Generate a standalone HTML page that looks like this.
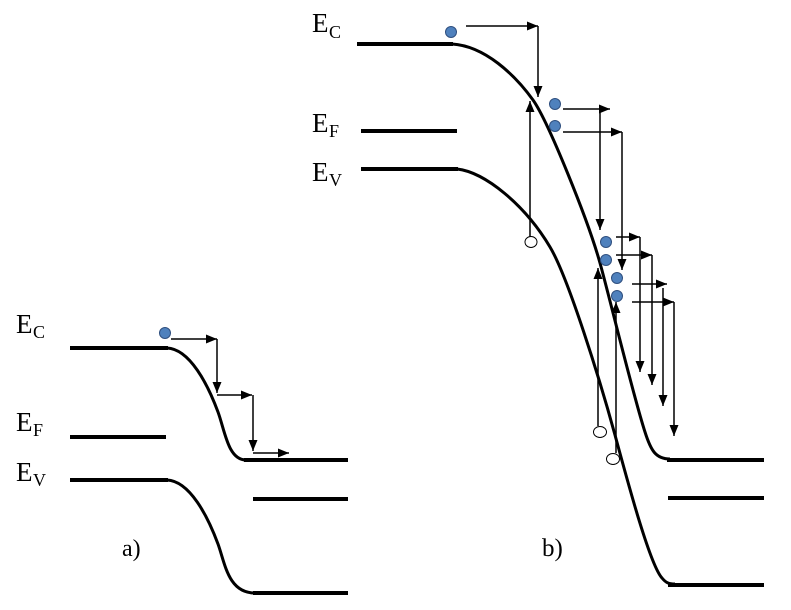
<!DOCTYPE html>
<html>
<head>
<meta charset="utf-8">
<style>
html,body{margin:0;padding:0;background:#fff;}
svg{display:block;}
text{font-family:"Liberation Serif",serif;fill:#000;}
</style>
</head>
<body>
<svg width="791" height="610" viewBox="0 0 791 610" xmlns="http://www.w3.org/2000/svg">
<defs>
<marker id="ah" markerUnits="userSpaceOnUse" markerWidth="12" markerHeight="10" refX="11" refY="4.5" orient="auto">
<path d="M0,0 L11,4.5 L0,9 z" fill="#000"/>
</marker>
</defs>

<!-- Panel a bands -->
<g fill="none" stroke="#000" stroke-linecap="butt">
<line x1="70" y1="348" x2="168" y2="348" stroke-width="4"/>
<path d="M167,348 C190,349 208,385 218,412 C225,431 228,460 246,460" stroke-width="3"/>
<line x1="244" y1="460" x2="348" y2="460" stroke-width="4"/>
<line x1="70" y1="437" x2="166" y2="437" stroke-width="4"/>
<line x1="253" y1="499" x2="348" y2="499" stroke-width="4"/>
<line x1="70" y1="480" x2="168" y2="480" stroke-width="4"/>
<path d="M167,480 C190,481 208,517 218,544 C225,563 228,593 255,593" stroke-width="3"/>
<line x1="253" y1="593" x2="348" y2="593" stroke-width="4"/>
</g>

<!-- Panel b bands -->
<g fill="none" stroke="#000">
<line x1="357" y1="44" x2="453" y2="44" stroke-width="4"/>
<path d="M452,44 C485,46 515,75 533,100 C548,121 588,220 600,263 C610,299 633,395 645,432 C651,451 656,459 670,459" stroke-width="3"/>
<line x1="667" y1="460" x2="764" y2="460" stroke-width="4"/>
<line x1="361" y1="131" x2="457" y2="131" stroke-width="4"/>
<line x1="668" y1="498" x2="764" y2="498" stroke-width="4"/>
<line x1="361" y1="169" x2="458" y2="169" stroke-width="4"/>
<path d="M457,169 C485,172 525,205 550,247 C568,277 600,380 615,435 C628,483 650,565 662,578 C666,583 669,584 675,584" stroke-width="3"/>
<line x1="668" y1="585" x2="764" y2="585" stroke-width="4"/>
</g>

<!-- Arrows panel a -->
<g stroke="#000" stroke-width="1.5" fill="none">
<line x1="171" y1="339" x2="217" y2="339" marker-end="url(#ah)"/>
<line x1="217" y1="339" x2="217" y2="393" marker-end="url(#ah)"/>
<line x1="217" y1="395" x2="252" y2="395" marker-end="url(#ah)"/>
<line x1="253" y1="395" x2="253" y2="451" marker-end="url(#ah)"/>
<line x1="253" y1="453" x2="289" y2="453" marker-end="url(#ah)"/>
</g>

<!-- Arrows panel b -->
<g stroke="#000" stroke-width="1.5" fill="none">
<line x1="466" y1="26" x2="538" y2="26" marker-end="url(#ah)"/>
<line x1="538" y1="26" x2="538" y2="97" marker-end="url(#ah)"/>
<line x1="563" y1="109" x2="610" y2="109" marker-end="url(#ah)"/>
<line x1="600" y1="109" x2="600" y2="230" marker-end="url(#ah)"/>
<line x1="563" y1="132" x2="622" y2="132" marker-end="url(#ah)"/>
<line x1="622" y1="132" x2="622" y2="270" marker-end="url(#ah)"/>
<line x1="530" y1="237" x2="530" y2="101" marker-end="url(#ah)"/>
<line x1="616" y1="237" x2="640" y2="237" marker-end="url(#ah)"/>
<line x1="640" y1="237" x2="640" y2="372" marker-end="url(#ah)"/>
<line x1="616" y1="255" x2="652" y2="255" marker-end="url(#ah)"/>
<line x1="652" y1="255" x2="652" y2="385" marker-end="url(#ah)"/>
<line x1="632" y1="284" x2="667" y2="284" marker-end="url(#ah)"/>
<line x1="663" y1="288" x2="663" y2="406" marker-end="url(#ah)"/>
<line x1="632" y1="302" x2="674" y2="302" marker-end="url(#ah)"/>
<line x1="674" y1="302" x2="674" y2="436" marker-end="url(#ah)"/>
<line x1="598" y1="426" x2="598" y2="268" marker-end="url(#ah)"/>
<line x1="616" y1="453" x2="616" y2="302" marker-end="url(#ah)"/>
</g>

<!-- Electrons -->
<g fill="#4f81bd" stroke="#2f4f7f" stroke-width="1">
<circle cx="165" cy="333" r="5.5"/>
<circle cx="451" cy="32" r="5.5"/>
<circle cx="555" cy="104" r="5.5"/>
<circle cx="555" cy="126" r="5.5"/>
<circle cx="606" cy="242" r="5.5"/>
<circle cx="606" cy="260" r="5.5"/>
<circle cx="617" cy="278" r="5.5"/>
<circle cx="617" cy="296" r="5.5"/>
</g>

<!-- Holes -->
<g fill="#fff" stroke="#000" stroke-width="1">
<ellipse cx="531" cy="242" rx="6" ry="5.5"/>
<ellipse cx="600" cy="432" rx="6.5" ry="5.5"/>
<ellipse cx="613" cy="459" rx="6.5" ry="5.5"/>
</g>

<!-- Labels panel a -->
<text x="16" y="333" font-size="27">E</text><text x="33" y="338" font-size="18">C</text>
<text x="16" y="431" font-size="27">E</text><text x="33" y="436" font-size="18">F</text>
<text x="16" y="481" font-size="27">E</text><text x="33" y="486" font-size="18">V</text>

<!-- Labels panel b -->
<text x="312" y="32" font-size="27">E</text><text x="329" y="38" font-size="18">C</text>
<text x="312" y="132" font-size="27">E</text><text x="329" y="137" font-size="18">F</text>
<text x="312" y="181" font-size="27">E</text><text x="329" y="186" font-size="18">V</text>

<text x="122" y="556" font-size="24">a)</text>
<text x="542" y="556" font-size="25">b)</text>
</svg>
</body>
</html>
